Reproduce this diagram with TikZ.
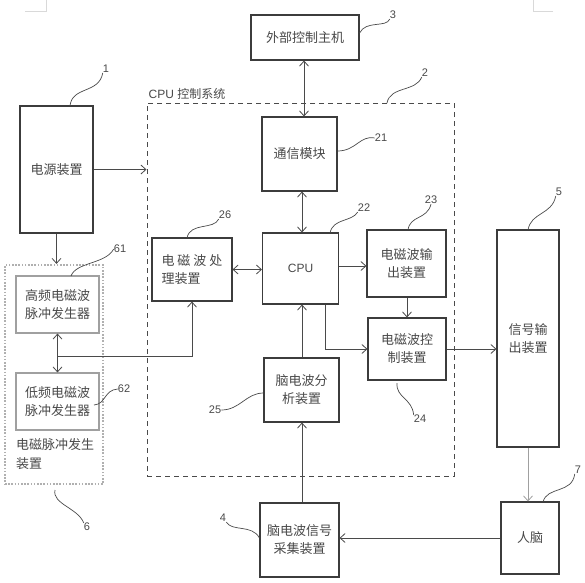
\documentclass[tikz,border=0pt]{standalone}
\usepackage{fontspec}
\setmainfont{Liberation Sans}
\newfontfamily\cjk{Noto Sans CJK SC}
\usetikzlibrary{arrows.meta}
\definecolor{boxc}{HTML}{3C3C3C}
\definecolor{lightc}{HTML}{A0A0A0}
\definecolor{dotc}{HTML}{B0B0B0}
\definecolor{txtc}{HTML}{484848}
\definecolor{linec}{HTML}{4A4A4A}
\tikzset{
  box/.style={draw=boxc, line width=1.1pt, inner sep=0pt, align=center, text=txtc,
    font=\cjk\fontsize{13}{18}\selectfont},
  lbox/.style={box, draw=lightc},
  arr/.style={draw=linec, line width=0.8pt, -{Straight Barb[length=5pt,width=9pt]}},
  darr/.style={draw=linec, line width=0.8pt, {Straight Barb[length=5pt,width=9pt]}-{Straight Barb[length=5pt,width=9pt]}},
  lead/.style={draw=linec, line width=0.7pt},
  num/.style={text=txtc, inner sep=0pt, font=\fontsize{11}{13}\selectfont},
  crop/.style={draw=black!15, line width=0.8pt}
}
\begin{document}
\begin{tikzpicture}[x=1pt,y=-1pt]
\useasboundingbox (0,0) rectangle (585,582);
% crop marks
\draw[crop] (25,11) -- (46,11) -- (46,0);
\draw[crop] (553,11) -- (533,11) -- (533,0);
% frames
\node[draw=linec, dashed, dash pattern=on 5pt off 4pt, line width=1pt, minimum width=307pt, minimum height=373pt, inner sep=0pt] (frame) at (300.5,289.5) {};
\node[draw=dotc, line width=2.2pt, dash pattern=on 1.6pt off 1.6pt, minimum width=98pt, minimum height=219pt, inner sep=0pt] (gen) at (54,374.5) {};
\node[anchor=north west, align=left, text=txtc, inner sep=0pt, font=\cjk\fontsize{13}{19}\selectfont] (gentxt) at (16,438) {电磁脉冲发生\\装置};
\node[text=txtc, inner sep=0pt, font=\fontsize{12}{14}\selectfont] (framelbl) at (187,94) {CPU {\cjk 控制系统}};
% boxes
\node[box, minimum width=108pt, minimum height=45pt] (ext) at (305,37.5) {外部控制主机};
\node[box, minimum width=73pt, minimum height=127pt] (pwr) at (56.5,169.5) {电源装置};
\node[box, minimum width=75pt, minimum height=74pt] (comm) at (299.5,154) {通信模块};
\node[box, minimum width=76pt, minimum height=71pt, font=\fontsize{12}{14}\selectfont] (cpu) at (300.5,268.5) {CPU};
\node[box, minimum width=79pt, minimum height=67pt] (out) at (406.5,263.5) {电磁波输\\出装置};
\node[box, minimum width=80pt, minimum height=63pt, align=left] (proc) at (192,269.5) {电\hspace{3pt}磁\hspace{3pt}波\hspace{3pt}处\\理装置};
\node[lbox, minimum width=83pt, minimum height=57pt] (hf) at (57.5,304.5) {高频电磁波\\脉冲发生器};
\node[lbox, minimum width=83pt, minimum height=57pt] (lf) at (57.5,401.5) {低频电磁波\\脉冲发生器};
\node[box, minimum width=75pt, minimum height=64pt] (ana) at (301.5,390) {脑电波分\\析装置};
\node[box, minimum width=78pt, minimum height=62pt] (ctl) at (407,349) {电磁波控\\制装置};
\node[box, minimum width=62pt, minimum height=217pt] (sig) at (528,338.5) {信号输\\出装置};
\node[box, minimum width=58pt, minimum height=72pt] (brain) at (530,538) {人脑};
\node[box, minimum width=79pt, minimum height=74pt] (acq) at (299.5,540) {脑电波信号\\采集装置};
% helper coordinates
\coordinate (x302) at (302,0);
\coordinate (x304) at (304,0);
\coordinate (x325) at (325,0);
\coordinate (y266) at (0,266);
\coordinate (j) at (57.5,356);
% connectors
\draw[arr] (pwr.east) -- (pwr.east -| frame.west);
\draw[arr] (pwr.south) -- (pwr.south |- gen.north);
\draw[darr] (ext.south -| x304) -- (comm.north -| x304);
\draw[darr] (comm.south -| x302) -- (cpu.north -| x302);
\draw[darr] (proc.east) -- (proc.east -| cpu.west);
\draw[arr] (cpu.east |- y266) -- (out.west |- y266);
\draw[arr] (out.south -| ctl.north) -- (ctl.north);
\draw[arr] (cpu.south -| x325) |- (ctl.west);
\draw[arr] (ctl.east) -- (ctl.east -| sig.west);
\draw[arr, draw=lightc] (sig.south) -- (sig.south |- brain.north);
\draw[arr] (brain.west) -- (brain.west -| acq.east);
\draw[arr] (acq.north -| x302) -- (ana.south -| x302);
\draw[arr] (ana.north -| x302) -- (cpu.south -| x302);
\draw[darr] (hf.south) -- (lf.north);
\draw[arr] (j) -| (proc.south);
% reference numbers and leaders
\node[num] (n1) at (106,69) {1};
\draw[lead] (70,106) .. controls (72,86) and (99,94) .. (n1.south west);
\node[num] (n3) at (393,15) {3};
\draw[lead] (ext.east |- 0,33) .. controls (366,20) and (386,28) .. (n3.south west);
\node[num] (n2) at (425,73) {2};
\draw[lead] (387,103) .. controls (390,86) and (416,92) .. (n2.south west);
\node[num] (n21) at (381,138) {21};
\draw[lead] (comm.east |- 0,151) .. controls (356,151) and (360,135) .. (n21.west);
\node[num] (n22) at (364,208) {22};
\draw[lead] (330,233) .. controls (333,218) and (352,222) .. (n22.south west);
\node[num] (n23) at (431,200) {23};
\draw[lead] (408,230) .. controls (410,215) and (427,220) .. (n23.south);
\node[num] (n26) at (225,215) {26};
\draw[lead] (187,238) .. controls (190,222) and (214,230) .. (n26.south west);
\node[num] (n61) at (120,249) {61};
\draw[lead] (71,276) .. controls (76,262) and (106,264) .. (n61.west);
\node[num] (n62) at (124,389) {62};
\draw[lead] (94,405) .. controls (106,404) and (104,390) .. (n62.west);
\node[num] (n25) at (215,410) {25};
\draw[lead] (n25.east) .. controls (240,410) and (246,393) .. (ana.west |- 0,393);
\node[num] (n24) at (420,419) {24};
\draw[lead] (397,383) .. controls (396,398) and (412,398) .. (n24.north west);
\node[num] (n5) at (559,192) {5};
\draw[lead] (528,230) .. controls (531,212) and (552,215) .. (n5.south west);
\node[num] (n7) at (578,470) {7};
\draw[lead] (543,502) .. controls (547,486) and (572,494) .. (n7.south west);
\node[num] (n6) at (87,527) {6};
\draw[lead] (55,490) .. controls (52,504) and (78,508) .. (n6.north west);
\node[num] (n4) at (223,518) {4};
\draw[lead] (n4.south east) .. controls (232,532) and (252,524) .. (acq.west |- 0,538);
\end{tikzpicture}
\end{document}
